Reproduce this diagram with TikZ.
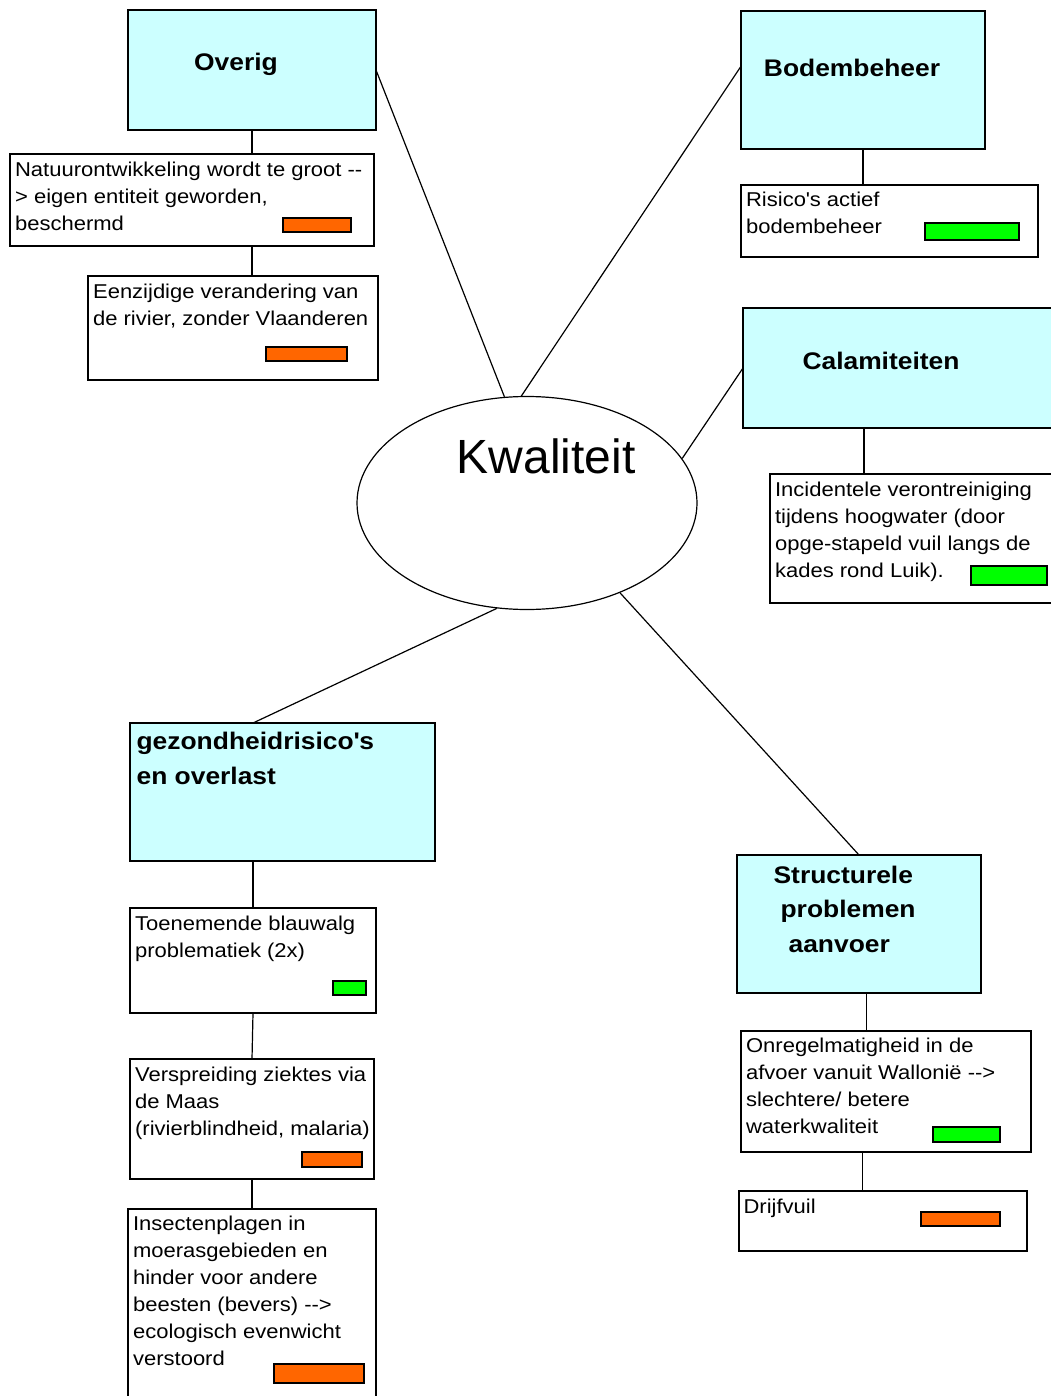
\documentclass[tikz,border=0pt]{standalone}
\usepackage{fontspec}
\setmainfont[FakeStretch=1.1]{Liberation Sans}
\newfontfamily\kwalfont{Liberation Sans}
\usetikzlibrary{positioning, shapes.geometric, calc}
\definecolor{headcyan}{HTML}{CCFFFF}
\definecolor{barorange}{HTML}{FF6600}
\definecolor{bargreen}{HTML}{00FF00}
\tikzset{%
	head/.style={draw, rectangle, fill=headcyan, inner sep=0pt, outer sep=0pt},
	item/.style={draw, rectangle, fill=white, inner sep=0pt, outer sep=0pt},
	bad/.style={draw, rectangle, fill=barorange, inner sep=0pt},
	good/.style={draw, rectangle, fill=bargreen, inner sep=0pt},
	txt/.style={anchor=north west, inner sep=0pt, align=left, font=\fontsize{20}{27}\selectfont},
	ttl/.style={anchor=base, inner sep=0pt, font=\fontsize{24}{34.5}\selectfont\bfseries}
}

\begin{document}
\begin{tikzpicture}[x=1pt, y=-1pt, line width=1.2pt]
	\useasboundingbox (0,0) rectangle (1051,1396);

	% centre
	\node[ellipse, draw, fill=white, minimum width=340pt, minimum height=213pt] (kwal) at (527,503) {};
	\node[anchor=base, inner sep=0pt, font=\kwalfont\fontsize{48}{52}\selectfont] (kwaltxt) at ($(kwal.center)+(19,-29.5)$) {Kwaliteit};

	% themes
	\node[head, minimum width=248pt, minimum height=120pt] (overig) at (252,70) {};
	\node[head, minimum width=244pt, minimum height=138pt] (bodem) at (863,80) {};
	\node[head, minimum width=310pt, minimum height=120pt] (calam) at (898,368) {};
	\node[head, minimum width=305pt, minimum height=138pt] (gezond) at (282.5,792) {};
	\node[head, minimum width=244pt, minimum height=138pt] (struct) at (859,924) {};

	% items
	\node[item, minimum width=364pt, minimum height=92pt, below=24pt of overig, xshift=-60pt] (natuur) {};
	\node[item, minimum width=290pt, minimum height=104pt, below=30pt of natuur, xshift=41pt] (eenz) {};
	\node[item, minimum width=297pt, minimum height=72pt, below=36pt of bodem, xshift=26.5pt] (risico) {};
	\node[item, minimum width=283pt, minimum height=129pt, below=46pt of calam, xshift=13.5pt] (incid) {};
	\node[item, minimum width=246pt, minimum height=105pt, below=47pt of gezond, xshift=-29.5pt] (toen) {};
	\node[item, minimum width=244pt, minimum height=120pt, below=46pt of toen, xshift=-1pt] (versp) {};
	\node[item, minimum width=248pt, minimum height=189pt, below=30pt of versp] (insect) {};
	\node[item, minimum width=290pt, minimum height=121pt, below=38pt of struct, xshift=27pt] (onreg) {};
	\node[item, minimum width=288pt, minimum height=60pt, below=39pt of onreg, xshift=-3pt] (drijf) {};

	% titles
	\node[ttl] (overigtxt) at ($(overig.center)+(-16,1)$) {Overig};
	\node[ttl] (bodemtxt) at ($(bodem.center)+(-11,-3.5)$) {Bodembeheer};
	\node[ttl] (calamtxt) at ($(calam.center)+(-17,1.5)$) {Calamiteiten};
	\node[ttl, anchor=north west, align=left] (gezondtxt) at ($(gezond.north west)+(6,9)$) {gezondheidrisico\textquotesingle s\\en overlast};
	\node[ttl, anchor=north west, align=left] (structtxt) at ($(struct.north west)+(36,10)$) {Structurele\\\hspace*{7pt}problemen\\\hspace*{15pt}aanvoer};

	% texts
	\node[txt] (natuurtxt) at ($(natuur.north west)+(4.5,7)$) {Natuurontwikkeling wordt te groot -{}-\\> eigen entiteit geworden,\\beschermd};
	\node[txt] (eenztxt) at ($(eenz.north west)+(4.5,7)$) {Eenzijdige verandering van\\de rivier, zonder Vlaanderen};
	\node[txt] (risicotxt) at ($(risico.north west)+(4.5,6)$) {Risico\textquotesingle s actief\\bodembeheer};
	\node[txt] (incidtxt) at ($(incid.north west)+(4.5,7)$) {Incidentele verontreiniging\\tijdens hoogwater (door\\opge-stapeld vuil langs de\\kades rond Luik).};
	\node[txt] (toentxt) at ($(toen.north west)+(4.5,7)$) {Toenemende blauwalg\\problematiek (2x)};
	\node[txt] (versptxt) at ($(versp.north west)+(4.5,7)$) {Verspreiding ziektes via\\de Maas\\(rivierblindheid, malaria)};
	\node[txt] (insecttxt) at ($(insect.north west)+(4.5,6)$) {Insectenplagen in\\moerasgebieden en\\hinder voor andere\\beesten (bevers) -{}->\\ecologisch evenwicht\\verstoord};
	\node[txt] (onregtxt) at ($(onreg.north west)+(4.5,6)$) {Onregelmatigheid in de\\afvoer vanuit Wallonië -{}->\\slechtere/ betere\\waterkwaliteit};
	\node[txt] (drijftxt) at ($(drijf.north west)+(4,7)$) {Drijfvuil};

	% rating bars
	\node[bad, minimum width=68pt, minimum height=14pt] (natuurbar) at (317,225) {};
	\node[bad, minimum width=81pt, minimum height=14pt] (eenzbar) at (306.5,354) {};
	\node[good, minimum width=94pt, minimum height=17pt] (risicobar) at (972,231.5) {};
	\node[good, minimum width=76pt, minimum height=19pt] (incidbar) at (1009,575.5) {};
	\node[good, minimum width=33pt, minimum height=14pt] (toenbar) at (349.5,988) {};
	\node[bad, minimum width=60pt, minimum height=15pt] (verspbar) at (332,1159.5) {};
	\node[bad, minimum width=90pt, minimum height=19pt] (insectbar) at (319,1373.5) {};
	\node[good, minimum width=67pt, minimum height=15pt] (onregbar) at (966.5,1134.5) {};
	\node[bad, minimum width=79pt, minimum height=14pt] (drijfbar) at (960.5,1219) {};

	% links to the centre
	\draw (overig.east) -- (kwal.102);
	\draw (kwal.93) -- ($(bodem.north west)!0.4!(bodem.south west)$);
	\draw (kwal.16) -- (calam.west);
	\draw (kwal.254) -- (toen.north |- gezond.north);
	\draw (kwal.-44) -- (struct.north);

	% links to the items
	\coordinate (calamfoot) at ($(calam.south west)!0.39!(calam.south east)$);
	\coordinate (structfoot) at ($(struct.south west)!0.53!(struct.south east)$);
	\coordinate (onregfoot) at ($(onreg.south west)!0.42!(onreg.south east)$);
	\draw (overig.south) -- (overig.south |- natuur.north);
	\draw (overig.south |- natuur.south) -- (overig.south |- eenz.north);
	\draw (bodem.south) -- (bodem.south |- risico.north);
	\draw (calamfoot) -- (calamfoot |- incid.north);
	\draw (toen.north |- gezond.south) -- (toen.north);
	\draw (toen.south) -- (versp.north);
	\draw (versp.south) -- (insect.north);
	\draw (structfoot) -- (structfoot |- onreg.north);
	\draw (onregfoot) -- (onregfoot |- drijf.north);
\end{tikzpicture}
\end{document}
